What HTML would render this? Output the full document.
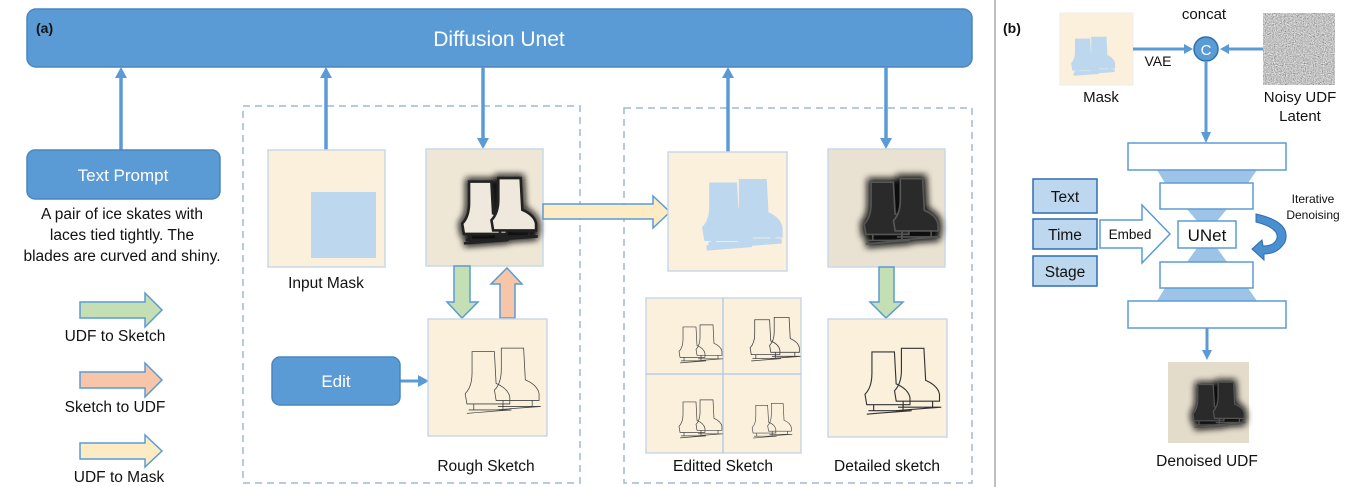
<!DOCTYPE html>
<html><head><meta charset="utf-8"><style>
html,body{margin:0;padding:0;background:#fff;}
svg{display:block;font-family:"Liberation Sans",sans-serif;}
</style></head><body>
<svg width="1356" height="487" viewBox="0 0 1356 487" xmlns="http://www.w3.org/2000/svg">
<defs>
<filter id="blur" x="-30%" y="-30%" width="160%" height="160%"><feGaussianBlur stdDeviation="3.5"/></filter>
<filter id="noise" x="0" y="0" width="100%" height="100%"><feTurbulence type="fractalNoise" baseFrequency="0.9" numOctaves="2" seed="3"/><feColorMatrix type="matrix" values="0.33 0.33 0.33 0 0  0.33 0.33 0.33 0 0  0.33 0.33 0.33 0 0  0 0 0 0 1"/><feComponentTransfer><feFuncR type="linear" slope="1.8" intercept="-0.35"/><feFuncG type="linear" slope="1.8" intercept="-0.35"/><feFuncB type="linear" slope="1.8" intercept="-0.35"/></feComponentTransfer></filter>
<symbol id="boot" viewBox="0 0 60 80">
<path d="M12,3 L38,3 L40,40 Q54,46 56,56 L56,64 L6,64 L4,52 Q12,44 12,28 Z M8,71 L58,71 M14,64 L14,71 M48,64 L48,71 M6,75 Q30,73 58,71"/>
</symbol>
<symbol id="pair" viewBox="0 0 100 100">
<use href="#boot" x="28" y="22" width="44" height="66"/>
<use href="#boot" x="53" y="19" width="44" height="66"/>
</symbol>
</defs>

<rect x="27" y="9" width="945" height="58" rx="9" fill="#5b9bd5" stroke="#4a86c0" stroke-width="1.5"/>
<text x="36" y="33" font-size="14" font-weight="bold" fill="#111">(a)</text>
<text x="499" y="46" font-size="21" fill="#fff" text-anchor="middle">Diffusion Unet</text>

<rect x="243" y="106" width="337" height="377" fill="none" stroke="#9dbad8" stroke-width="1.5" stroke-dasharray="7,5"/>
<rect x="624" y="108" width="348" height="375" fill="none" stroke="#9dbad8" stroke-width="1.5" stroke-dasharray="7,5"/>

<g stroke="#5b9bd5" stroke-width="3.5" fill="#5b9bd5">
<line x1="121" y1="150" x2="121" y2="76"/><polygon points="115,78 127,78 121,67" stroke="none"/>
<line x1="326" y1="150" x2="326" y2="76"/><polygon points="320,78 332,78 326,67" stroke="none"/>
<line x1="483" y1="67" x2="483" y2="140"/><polygon points="477,138 489,138 483,149" stroke="none"/>
<line x1="728" y1="152" x2="728" y2="76"/><polygon points="722,78 734,78 728,67" stroke="none"/>
<line x1="886" y1="67" x2="886" y2="140"/><polygon points="880,138 892,138 886,149" stroke="none"/>
<line x1="400" y1="381" x2="420" y2="381" stroke-width="3"/><polygon points="418,375 418,387 429,381" stroke="none"/>
</g>

<rect x="27" y="150" width="193" height="49" rx="8" fill="#5b9bd5" stroke="#4a86c0" stroke-width="1.5"/>
<text x="123" y="181" font-size="17" fill="#fff" text-anchor="middle">Text Prompt</text>
<g font-size="15.5" fill="#111" text-anchor="middle">
<text x="122" y="219">A pair of ice skates with</text>
<text x="122" y="240">laces tied tightly. The</text>
<text x="122" y="261">blades are curved and shiny.</text>
</g>

<polygon points="80,302 145,302 145,293 162,310 145,327 145,318 80,318" fill="#c5dfb4" stroke="#5b9bd5" stroke-width="1.5"/>
<text x="115" y="341" font-size="15.5" text-anchor="middle" fill="#111">UDF to Sketch</text>
<polygon points="80,372 145,372 145,363 162,380 145,397 145,388 80,388" fill="#f7c6a8" stroke="#5b9bd5" stroke-width="1.5"/>
<text x="115" y="412" font-size="15.5" text-anchor="middle" fill="#111">Sketch to UDF</text>
<polygon points="80,443 145,443 145,435 162,451 145,467 145,459 80,459" fill="#fdebc3" stroke="#5b9bd5" stroke-width="1.5"/>
<text x="119" y="482" font-size="15.5" text-anchor="middle" fill="#111">UDF to Mask</text>

<rect x="268" y="150" width="117" height="117" fill="#faf0dc" stroke="#c9d8e8" stroke-width="1.5"/>
<rect x="311" y="192" width="65" height="66" fill="#bcd7ee"/>
<text x="326" y="288" font-size="15.5" text-anchor="middle" fill="#111">Input Mask</text>

<rect x="426" y="149" width="117" height="117" fill="#efe7d6" stroke="#c9d8e8" stroke-width="1.5"/>
<use href="#pair" x="426" y="149" width="117" height="117" fill="none" stroke="#111" stroke-width="8" filter="url(#blur)"/>
<use href="#pair" x="426" y="149" width="117" height="117" fill="#efe9dd" stroke="#222" stroke-width="3"/>

<polygon points="454,266 470,266 470,302 478,302 462,318 447,302 454,302" fill="#c5dfb4" stroke="#5b9bd5" stroke-width="1.5"/>
<polygon points="500,318 515,318 515,284 522,284 507,268 491,284 500,284" fill="#f7c6a8" stroke="#5b9bd5" stroke-width="1.5"/>

<rect x="428" y="319" width="119" height="117" fill="#faf0dc" stroke="#c9d8e8" stroke-width="1.5"/>
<use href="#pair" x="428" y="319" width="119" height="117" fill="none" stroke="#444" stroke-width="0.9"/>
<text x="486" y="471" font-size="15.5" text-anchor="middle" fill="#111">Rough Sketch</text>

<rect x="272" y="357" width="128" height="48" rx="8" fill="#5b9bd5" stroke="#4a86c0" stroke-width="1.5"/>
<text x="336" y="387" font-size="17" fill="#fff" text-anchor="middle">Edit</text>

<polygon points="543,204 653,204 653,196 670,212 653,228 653,219 543,219" fill="#fdebc3" stroke="#5b9bd5" stroke-width="1.5"/>

<rect x="668" y="152" width="119" height="119" fill="#faf0dc" stroke="#c9d8e8" stroke-width="1.5"/>
<use href="#pair" x="668" y="152" width="119" height="119" fill="#bcd7ee" stroke="#bcd7ee" stroke-width="6"/>

<rect x="828" y="149" width="117" height="118" fill="#e9e2d2" stroke="#c9d8e8" stroke-width="1.5"/>
<use href="#pair" x="828" y="149" width="117" height="118" fill="#333" stroke="#111" stroke-width="9" filter="url(#blur)"/>
<use href="#pair" x="828" y="149" width="117" height="118" fill="#2a2a2a" stroke="#555" stroke-width="2"/>

<polygon points="879,267 894,267 894,302 903,302 886,318 870,302 879,302" fill="#c5dfb4" stroke="#5b9bd5" stroke-width="1.5"/>

<rect x="828" y="319" width="119" height="118" fill="#faf0dc" stroke="#c9d8e8" stroke-width="1.5"/>
<use href="#pair" x="828" y="319" width="119" height="118" fill="none" stroke="#333" stroke-width="1.3"/>
<text x="887" y="471" font-size="15.5" text-anchor="middle" fill="#111">Detailed sketch</text>

<rect x="646" y="298" width="155" height="155" fill="#faf0dc" stroke="#c9d8e8" stroke-width="1.5"/>
<line x1="723" y1="298" x2="723" y2="453" stroke="#b8cce4" stroke-width="1.5"/>
<line x1="646" y1="374" x2="801" y2="374" stroke="#b8cce4" stroke-width="1.5"/>
<use href="#pair" x="658" y="308" width="68" height="68" fill="none" stroke="#444" stroke-width="1.4"/>
<use href="#pair" x="726" y="298" width="78" height="78" fill="none" stroke="#444" stroke-width="1.4"/>
<use href="#pair" x="658" y="383" width="68" height="68" fill="none" stroke="#444" stroke-width="1.4"/>
<use href="#pair" x="733" y="388" width="62" height="62" fill="none" stroke="#444" stroke-width="1.4"/>
<text x="723" y="471" font-size="15.5" text-anchor="middle" fill="#111">Editted Sketch</text>

<line x1="995" y1="0" x2="995" y2="487" stroke="#aaa" stroke-width="1.5"/>

<text x="1003" y="33" font-size="14" font-weight="bold" fill="#111">(b)</text>
<rect x="1060" y="13" width="73" height="72" fill="#faf0dc" stroke="#eee" stroke-width="1"/>
<use href="#pair" x="1050" y="22" width="70" height="65" fill="#bcd7ee" stroke="#bcd7ee" stroke-width="6"/>
<text x="1101" y="102" font-size="15" text-anchor="middle" fill="#111">Mask</text>
<rect x="1263" y="13" width="72" height="72" fill="#888" filter="url(#noise)"/>
<text x="1300" y="102" font-size="15" text-anchor="middle" fill="#111">Noisy UDF</text>
<text x="1300" y="121" font-size="15" text-anchor="middle" fill="#111">Latent</text>
<text x="1204" y="19" font-size="15" text-anchor="middle" fill="#111">concat</text>
<text x="1158" y="66" font-size="14" text-anchor="middle" fill="#111">VAE</text>
<g stroke="#5b9bd5" stroke-width="3" fill="#5b9bd5">
<line x1="1133" y1="49" x2="1186" y2="49"/><polygon points="1184,44 1184,54 1193,49" stroke="none"/>
<line x1="1263" y1="49" x2="1227" y2="49"/><polygon points="1229,44 1229,54 1220,49" stroke="none"/>
<line x1="1206" y1="62" x2="1206" y2="134"/><polygon points="1201,132 1211,132 1206,143" stroke="none"/>
<line x1="1207" y1="328" x2="1207" y2="352"/><polygon points="1202,350 1212,350 1207,360" stroke="none"/>
</g>
<circle cx="1206" cy="49" r="12" fill="#5b9bd5" stroke="#2e6fb0" stroke-width="1.5"/>
<text x="1206" y="55" font-size="15" fill="#fff" text-anchor="middle">C</text>

<g fill="#9dc3e6">
<polygon points="1157,170 1257,170 1248,183 1165,183"/>
<polygon points="1187,209 1227,209 1217,221 1197,221"/>
<polygon points="1197,248 1217,248 1227,262 1187,262"/>
<polygon points="1165,288 1248,288 1257,301 1157,301"/>
</g>
<g fill="#fff" stroke="#5b9bd5" stroke-width="1.5">
<rect x="1128" y="143" width="158" height="27"/>
<rect x="1160" y="183" width="93" height="26"/>
<rect x="1178" y="221" width="58" height="27"/>
<rect x="1160" y="262" width="93" height="26"/>
<rect x="1128" y="301" width="158" height="27"/>
</g>
<text x="1207" y="241" font-size="17" text-anchor="middle" fill="#111">UNet</text>

<g fill="#bdd7ee" stroke="#2e6fb0" stroke-width="1.5">
<rect x="1033" y="179" width="64" height="34"/>
<rect x="1033" y="219" width="64" height="30"/>
<rect x="1033" y="256" width="64" height="30"/>
</g>
<g font-size="15.5" text-anchor="middle" fill="#111">
<text x="1065" y="202">Text</text>
<text x="1065" y="240">Time</text>
<text x="1065" y="277">Stage</text>
</g>
<polygon points="1100,220 1142,220 1142,205 1170,234 1142,263 1142,248 1100,248" fill="#fff" stroke="#5b9bd5" stroke-width="1.5"/>
<text x="1130" y="239" font-size="13.5" text-anchor="middle" fill="#111">Embed</text>

<path d="M1256,214 Q1292,222 1285,242 Q1278,254 1264,254 L1264,260 L1252,249 L1262,240 L1263,246 Q1275,246 1277,238 Q1279,228 1256,222 Z" fill="#4a8fd0" stroke="#2e6fb0" stroke-width="1"/>
<text x="1313" y="203" font-size="12" text-anchor="middle" fill="#111">Iterative</text>
<text x="1313" y="219" font-size="12" text-anchor="middle" fill="#111">Denoising</text>

<rect x="1168" y="362" width="81" height="81" fill="#e4dccb"/>
<use href="#pair" x="1168" y="362" width="81" height="81" fill="#222" stroke="#111" stroke-width="9" filter="url(#blur)"/>
<use href="#pair" x="1168" y="362" width="81" height="81" fill="#2a2a2a" stroke="#555" stroke-width="2"/>
<text x="1207" y="466" font-size="15.5" text-anchor="middle" fill="#111">Denoised UDF</text>
</svg>
</body></html>
